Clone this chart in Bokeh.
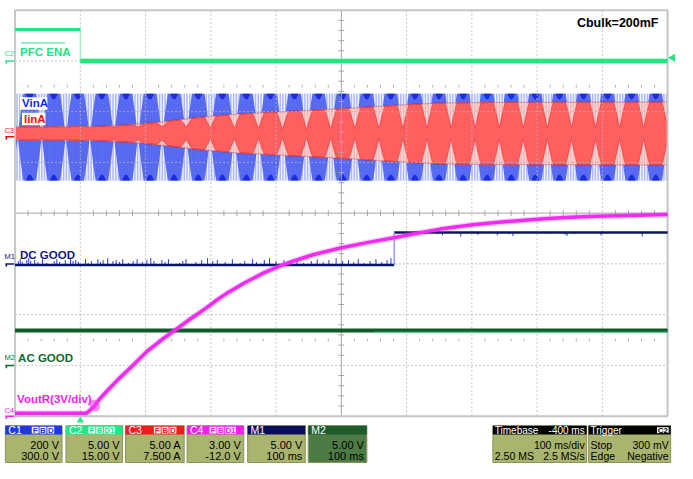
import numpy as np
from bokeh.plotting import figure
from bokeh.models import Range1d, Label
from bokeh.embed import file_html
from bokeh.resources import INLINE

FONT = "Liberation Sans"

# ---------------- values ----------------
# time in ms relative to the trigger (PFC ENA falling edge); 100 ms/div
T_LEFT, T_RIGHT = -100.0, 900.0

# channel settings: scale per div and offset (from the status bar)
ch_names = ["C1", "C2", "C3", "C4", "M1", "M2"]
ch_scale = [200.0, 5.0, 5.0, 3.0, 5.0, 5.0]
ch_offset = [300.0, 15.0, 7.5, -12.0, 5.0, 15.0]
ch_row1 = ["200 V", "5.00 V", "5.00 A", "3.00 V", "5.00 V", "5.00 V"]
ch_row2 = ["300.0 V", "15.00 V", "7.500 A", "-12.0 V", "100 ms", "100 ms"]

# C2  PFC ENA (V)
pfc_t = [-100.0, 0.0, 0.0, 900.0]
pfc_v = [3.1, 3.1, 0.0, 0.0]

# M1  DC GOOD (V)
dc_t = [-100.0, 481.0, 481.0, 900.0]
dc_v = [-0.1, -0.1, 3.1, 3.1]
dc_glitch_lo_t = [-95, -92, -89, -82, -79, -76, -70, -65, -58, -52, -40, -36, -32, -23, -15, -11,
                  -7, -3, 8, 12, 17, 27, 31, 35, 42, 50, 55, 60, 65, 74, 81, 87, 95, 102, 108,
                  113, 125, 130, 135, 152, 157, 162, 177, 186, 195, 203, 210, 222, 233, 245,
                  252, 264, 270, 282, 290, 300, 312, 321, 332, 342, 354, 363, 372, 381, 392,
                  402, 411, 419, 426, 435, 444, 453, 462, 470, 476]
dc_glitch_hi_t = [502, 505, 547, 555, 583, 609, 639, 657, 663, 721, 743, 746, 757, 798, 861]

# M2  AC GOOD (V)
ac_t = [-100.0, 900.0]
ac_v = [3.45, 3.45]

# C4  VoutR (V)
vout_t = [-100, 9.4, 19.9, 27.4, 42.4, 57.3, 76.8, 102.2, 124.7, 147.2, 169.6, 192.1, 210.0,
          226.5, 251.9, 281.9, 304.3, 326.8, 356.7, 398.7, 439.2, 476.5, 513.9, 551.5, 600.9,
          641.2, 675.7, 716.2, 750.6, 791.0, 825.4, 900]
vout_v = [0.171, 0.171, 0.514, 0.914, 1.543, 2.143, 2.857, 3.829, 4.514, 5.143, 5.771, 6.371,
          6.886, 7.314, 7.886, 8.486, 8.857, 9.171, 9.543, 9.943, 10.257, 10.514, 10.8, 11.057,
          11.314, 11.457, 11.571, 11.686, 11.76, 11.817, 11.851, 11.914]

# C1  VinA envelope peak (V)
vin_peak_v = 171.0
# C3  IinA envelope peak (A)
iin_t = [-100, 27, 87, 132, 177, 237, 297, 357, 417, 477, 551, 626, 900]
iin_pk = [0.65, 0.7, 0.9, 1.2, 1.55, 1.9, 2.1, 2.3, 2.5, 2.75, 3.0, 3.05, 3.1]
iin_offset = 0.35
# how "filled" the current band looks between visible cycles (1 = solid band)
iin_fill_t = [-100, 60, 200, 320, 900]
iin_fill = [0.85, 0.8, 0.3, 0.18, 0.18]

# apparent (aliased) line-cycle pattern on the display
alias_period_ms = 36.9
alias_phase_ms = -77.6

# ---------------- helpers (reference pixel -> data) ----------------
def X(px):
    return (px - 81.7) / 0.668


def Y(py):
    return (220.0 - py) / 52.5


PXT = 1 / 0.668
PXD = 1 / 52.5


def zero(i):
    return ch_offset[i] / ch_scale[i]


C1_Z, C2_Z, C3_Z, C4_Z = zero(0), zero(1), zero(2), zero(3)
M1_Z, M2_Z = -1.0, -3.0

p = figure(width=677, height=463, x_range=Range1d(X(0), X(693)), y_range=Range1d(Y(479), Y(0)),
           output_backend="svg", toolbar_location=None, x_axis_location=None, y_axis_location=None,
           min_border=0, outline_line_color=None, background_fill_color="white",
           border_fill_color="white")
p.grid.visible = False


def lab(px, py, text, color, size, bold=False, align="left"):
    p.add_layout(Label(x=X(px), y=Y(py), text=text, text_color=color, text_font=FONT,
                       text_font_size=f"{size}px", text_font_style="bold" if bold else "normal",
                       text_align=align, text_baseline="middle"))


# ---------------- VinA (blue) ----------------
tt = np.linspace(T_LEFT, T_RIGHT, 4001)
cs = np.abs(np.cos(np.pi * (tt - alias_phase_ms) / alias_period_ms))
s2 = np.minimum(1.0, 1.45 * cs)
A = vin_peak_v / ch_scale[0]
p.quad(left=T_LEFT, right=T_RIGHT, bottom=C1_Z - A, top=C1_Z + A, fill_color="#aeb8f6", line_color=None)
st = np.arange(T_LEFT + 1, T_RIGHT, 4.2)
p.segment(x0=st, y0=C1_Z - A, x1=st, y1=C1_Z + A, line_color="white", line_width=1.3, line_alpha=0.85)
p.varea(x=tt, y1=C1_Z - A * s2, y2=C1_Z + A * s2, fill_color="#4a5ef0", fill_alpha=0.9)
bump = np.clip((cs - 0.88) / 0.12, 0, 1) * 6 * PXD
p.varea(x=tt, y1=C1_Z + A - bump, y2=C1_Z + A, fill_color="#1a2ddc")
p.varea(x=tt, y1=C1_Z - A, y2=C1_Z - A + bump, fill_color="#1a2ddc")

# ---------------- IinA (red) ----------------
c3 = C3_Z + iin_offset / ch_scale[2]
E = np.interp(tt, iin_t, iin_pk) / ch_scale[2]
m = np.interp(tt, iin_fill_t, iin_fill)
p.varea(x=tt, y1=c3 - E, y2=c3 + E, fill_color="#f5b6b6")
Es = np.interp(st, iin_t, iin_pk) / ch_scale[2]
p.segment(x0=st, y0=c3 - Es, x1=st, y1=c3 + Es, line_color="white", line_width=1.2, line_alpha=0.5)
shp = E * (m + (1 - m) * s2)
p.varea(x=tt, y1=c3 - shp, y2=c3 + shp, fill_color="#ff5a5a", fill_alpha=0.95)
p.line(tt, c3 + shp, line_color="#e42020", line_width=1, line_alpha=0.5)
p.line(tt, c3 - shp, line_color="#e42020", line_width=1, line_alpha=0.5)
p.line(tt, c3 + E, line_color="#e04848", line_width=1, line_alpha=0.5)
p.line(tt, c3 - E, line_color="#e04848", line_width=1, line_alpha=0.5)

# ---------------- graticule ----------------
GRID = "#b5b5b5"
gx = [T_LEFT + 100 * i for i in range(1, 10) if i != 5]
p.segment(x0=gx, y0=-4, x1=gx, y1=4, line_color=GRID, line_dash="2 2", line_width=1, line_alpha=0.8)
gy = [-3, -2, -1, 1, 2, 3]
p.segment(x0=T_LEFT, y0=gy, x1=T_RIGHT, y1=gy, line_color=GRID, line_dash="2 2", line_width=1, line_alpha=0.8)
p.segment(x0=[T_LEFT, 400], y0=[0, -4], x1=[T_RIGHT, 400], y1=[0, 4], line_color="#a6a6a6", line_width=1)
tk_t = [T_LEFT + 20 * k for k in range(1, 50) if k % 5]
p.segment(x0=tk_t, y0=-3 * PXD, x1=tk_t, y1=3 * PXD, line_color="#a6a6a6")
tk_y = [-4 + 0.2 * k for k in range(1, 40) if k % 5]
p.segment(x0=400 - 3 * PXT, y0=tk_y, x1=400 + 3 * PXT, y1=tk_y, line_color="#a6a6a6")
for yy in (2.5, -2.5):
    p.segment(x0=tk_t, y0=yy - 1.5 * PXD, x1=tk_t, y1=yy + 1.5 * PXD, line_color="#b5b5b5")
p.quad(left=T_LEFT, right=T_RIGHT, bottom=-4, top=4, fill_color=None, line_color="#c6c6c6", line_width=2)

# label boxes over the band
p.quad(left=X(20), right=X(48), top=Y(100), bottom=Y(113), fill_color="white", line_color=None)
p.quad(left=X(22), right=X(46), top=Y(116), bottom=Y(129), fill_color="white", line_color=None)

# ---------------- AC GOOD (M2) ----------------
acy = [M2_Z + v / ch_scale[5] for v in ac_v]
p.line(ac_t, acy, line_color="#0d5c2c", line_width=4)
p.line([450, 900], [acy[0] - 1.8 * PXD] * 2, line_color="#3ddc84", line_width=1.3, line_alpha=0.6)

# ---------------- DC GOOD (M1) ----------------
dcy = [M1_Z + v / ch_scale[4] for v in dc_v]
hts = [4, 6, 3, 5, 7, 4, 5, 3, 6, 2]
glo_y = dcy[0]
p.segment(x0=dc_glitch_lo_t, y0=glo_y, x1=dc_glitch_lo_t,
          y1=[glo_y + hts[i % len(hts)] * PXD for i in range(len(dc_glitch_lo_t))],
          line_color="#2a3ad8", line_width=1)
ghi_y = dcy[-1]
p.segment(x0=dc_glitch_hi_t, y0=ghi_y, x1=dc_glitch_hi_t,
          y1=[ghi_y - hts[i % len(hts)] * 0.6 * PXD for i in range(len(dc_glitch_hi_t))],
          line_color="#2a3ad8", line_width=1)
p.line(dc_t[:2], dcy[:2], line_color="#0a1466", line_width=2.5)
p.line(dc_t[2:], dcy[2:], line_color="#0a1466", line_width=2.5)
p.line(dc_t[1:3], dcy[1:3], line_color="#7f86ff", line_width=1.2)

# ---------------- PFC ENA (C2) ----------------
pfy = [C2_Z + v / ch_scale[1] for v in pfc_v]
p.line(pfc_t[1:3], pfy[1:3], line_color="#8ff0c0", line_width=1.2)
p.line(pfc_t[:2], pfy[:2], line_color="#22e682", line_width=3)
p.line(pfc_t[2:], pfy[2:], line_color="#8ff0c0", line_width=6, line_alpha=0.6)
p.line(pfc_t[2:], pfy[2:], line_color="#22e682", line_width=4)

# ---------------- VoutR (C4) ----------------
voy = [C4_Z + v / ch_scale[3] for v in vout_v]
p.line(vout_t, voy, line_color="#f23cf2", line_width=6, line_alpha=0.25)
p.line(vout_t, voy, line_color="#f02af0", line_width=3.5)
tb = 22.0
p.ellipse(x=tb, y=C4_Z + np.interp(tb, vout_t, vout_v) / ch_scale[3], width=10 * PXT,
          height=13 * PXD, angle=0.6, fill_color="#f040f0", fill_alpha=0.6, line_color=None)

# ---------------- trace labels ----------------
p.segment(x0=X(21), y0=Y(44), x1=X(66), y1=Y(44), line_color="#22e682", line_width=1)
lab(20, 53.5, "PFC ENA", "#22e37f", 11.5, bold=True)
lab(22, 106.5, "VinA", "#1a2ae0", 11.5, bold=True)
lab(24, 122.5, "IinA", "#ee1111", 11.5, bold=True)
lab(590, 23, "Cbulk=200mF", "black", 12.5, bold=True)
lab(20, 263, "DC GOOD", "#141a80", 11.5, bold=True)
lab(18, 369.5, "AC GOOD", "#0f6a30", 11.5, bold=True)
lab(17, 412, "VoutR(3V/div)", "#ee22ee", 11.5, bold=True)

# ---------------- channel markers on the left ----------------
marks = [("C2", "#22e682", 62.5, 55), ("C3", "#ee1111", 141, 134), ("M1", "#141a80", 272.5, 265),
         ("M2", "#0f6a30", 377.5, 369.5), ("C4", "#ee22ee", 430, 424)]
for name, col, my, ty in marks:
    lab(4, ty, name, col, 7.5)
    p.segment(x0=X(5), y0=Y(my), x1=X(14), y1=Y(my), line_color=col, line_width=1.5)
    p.segment(x0=X(6), y0=Y(my), x1=X(6), y1=Y(my + 3), line_color=col, line_width=1.5)

# trigger markers
p.scatter(x=[X(688)], y=[C2_Z + 0.3 / ch_scale[1]], marker="triangle", angle=np.pi / 2, size=8,
          fill_color="#22e682", line_color=None)
p.scatter(x=[0.0], y=[Y(434.5)], marker="triangle", size=7, fill_color="#22e682", line_color=None)

# ---------------- status bar ----------------
SB_TOP, SB_HEAD, SB_BOT = 440, 449, 478
ROW1, ROW2 = 459.5, 471.5
HEAD_Y = 444.5
BODY = "#a9b46e"
ch_box = [(5, 63), (67, 125), (128, 188), (191, 249), (253, 312), (315, 375)]
ch_head = ["#2035e6", "#1fe88c", "#f01c1c", "#f020f0", "#0c0c5c", "#1d5a2c"]
ch_body = [BODY, BODY, BODY, BODY, BODY, "#4d7b44"]
ch_badges = [["F", "B", "D"], ["F", "B", "D1"], ["F", "B", "D"], ["F", "B", "D1"], [], []]

for i, (x0, x1) in enumerate(ch_box):
    p.quad(left=X(x0), right=X(x1), top=Y(SB_TOP), bottom=Y(SB_BOT), fill_color=ch_body[i],
           line_color="#8a9258", line_width=1)
    p.quad(left=X(x0), right=X(x1), top=Y(SB_TOP), bottom=Y(SB_HEAD), fill_color=ch_head[i], line_color=None)
    lab(x0 + 3, HEAD_Y, ch_names[i], "white", 10.5)
    bx = x1 - 8
    for b in reversed(ch_badges[i]):
        w = 7 if len(b) == 1 else 11
        p.quad(left=X(bx - w), right=X(bx), top=Y(441), bottom=Y(448), fill_color="white", line_color=None)
        lab(bx - w / 2, HEAD_Y + 0.2, b, ch_head[i], 8, bold=True, align="center")
        bx -= w + 1
    lab(x1 - 3, ROW1, ch_row1[i], "black", 11, align="right")
    lab(x1 - 3, ROW2, ch_row2[i], "black", 11, align="right")

tb_rows = [("Timebase", "-400 ms"), ("", "100 ms/div"), ("2.50 MS", "2.5 MS/s")]
tr_rows = [("Trigger", ""), ("Stop", "300 mV"), ("Edge", "Negative")]
for (x0, x1), rows in (((504, 600), tb_rows), ((602, 686), tr_rows)):
    p.quad(left=X(x0), right=X(x1), top=Y(SB_TOP), bottom=Y(SB_BOT), fill_color=BODY,
           line_color="#8a9258", line_width=1)
    p.quad(left=X(x0), right=X(x1), top=Y(SB_TOP), bottom=Y(SB_HEAD), fill_color="black", line_color=None)
    for (lt, rt), yy, col in zip(rows, (HEAD_Y, ROW1, ROW2), ("white", "black", "black")):
        sz = 10 if yy == HEAD_Y else 10.5
        if lt:
            lab(x0 + 2, yy, lt, col, sz)
        if rt:
            lab(x1 - 2, yy, rt, col, sz, align="right")
p.quad(left=X(672), right=X(684), top=Y(441.5), bottom=Y(447.5), fill_color="white", line_color=None)
lab(678, HEAD_Y + 0.2, "C2", "black", 8, bold=True, align="center")

open("out.html", "w").write(file_html(p, INLINE))
